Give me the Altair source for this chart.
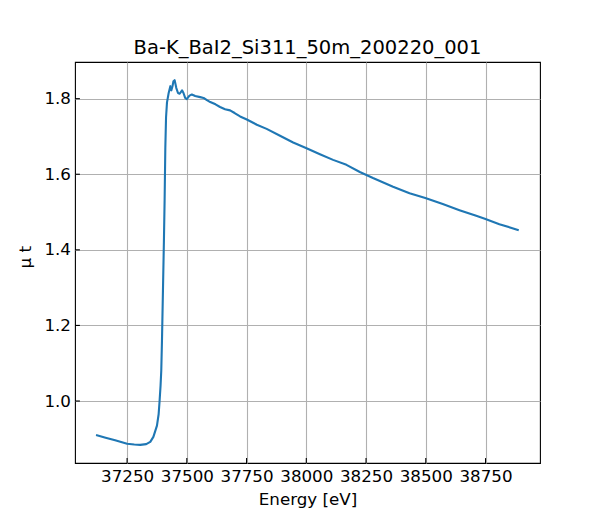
import altair as alt
import pandas as pd

# energy [eV] and mu*t
energy = [37120, 37160, 37200, 37250, 37280, 37305, 37330, 37347, 37360, 37368,
          37375, 37382, 37386, 37390, 37393, 37396, 37400, 37404, 37407, 37410,
          37413, 37417, 37424, 37431, 37435, 37440, 37444, 37449, 37456, 37463,
          37470, 37480, 37486, 37493, 37500, 37511, 37521, 37535, 37556, 37570,
          37584, 37598, 37620, 37639, 37660, 37681, 37700, 37723, 37751, 37793,
          37834, 37890, 37945, 38001, 38057, 38112, 38168, 38224, 38279, 38363,
          38432, 38498, 38571, 38641, 38711, 38747, 38808, 38889]
mu_t = [0.910, 0.903, 0.896, 0.887, 0.885, 0.884, 0.886, 0.892, 0.905, 0.921,
        0.935, 0.965, 1.000, 1.040, 1.080, 1.160, 1.290, 1.420, 1.530, 1.670,
        1.750, 1.790, 1.815, 1.833, 1.822, 1.833, 1.846, 1.849, 1.828, 1.815,
        1.813, 1.822, 1.815, 1.802, 1.799, 1.808, 1.811, 1.807, 1.804, 1.802,
        1.796, 1.791, 1.785, 1.778, 1.772, 1.769, 1.762, 1.753, 1.745, 1.731,
        1.720, 1.702, 1.684, 1.669, 1.653, 1.638, 1.625, 1.606, 1.590, 1.567,
        1.550, 1.537, 1.521, 1.505, 1.490, 1.482, 1.468, 1.452]

x_ticks = [37250, 37500, 37750, 38000, 38250, 38500, 38750]
y_ticks = [1.0, 1.2, 1.4, 1.6, 1.8]

FONT = "DejaVu Sans"
W, H = 465, 401

df = pd.DataFrame({"E": energy, "mu": mu_t})
xt = pd.DataFrame({"E": x_ticks})
yt = pd.DataFrame({"mu": y_ticks})

xscale = alt.Scale(domain=[37032, 38978], nice=False, zero=False)
yscale = alt.Scale(domain=[0.836, 1.897], nice=False, zero=False)

line = alt.Chart(df).mark_line(color="#1f77b4", strokeWidth=2.1, strokeJoin="round").encode(
    x=alt.X("E:Q", scale=xscale,
            axis=alt.Axis(values=x_ticks, format="d", title="Energy [eV]",
                          labelPadding=5, titleY=41.7, titleBaseline="alphabetic")),
    y=alt.Y("mu:Q", scale=yscale,
            axis=alt.Axis(values=y_ticks, format=".1f", title="μ t",
                          labelPadding=4.5, titleX=-49.4, titleY=194.7,
                          titleAngle=-90, titleAlign="center", titleBaseline="middle")),
)

# inward tick marks, like matplotlib direction="in"
xtick = alt.Chart(xt).mark_rule(color="black", strokeWidth=1.1).encode(
    x=alt.X("E:Q", scale=xscale), y=alt.value(H), y2=alt.value(H - 4.9))
ytick = alt.Chart(yt).mark_rule(color="black", strokeWidth=1.1).encode(
    y=alt.Y("mu:Q", scale=yscale), x=alt.value(0), x2=alt.value(4.9))

chart = alt.layer(line, xtick, ytick).properties(
    width=W, height=H,
    title=alt.TitleParams("Ba-K_BaI2_Si311_50m_200220_001", font=FONT, fontSize=19.5,
                          fontWeight="normal", color="black", offset=7.7,
                          baseline="alphabetic", anchor="middle", dy=19),
    autosize=alt.AutoSizeParams(type="none"),
    padding={"left": 67, "top": 54, "right": 52, "bottom": 49},
).configure_view(
    stroke="black", strokeWidth=1.1,
).configure_axis(
    domain=False, ticks=False, tickSize=0, grid=True, gridColor="#b0b0b0", gridWidth=1.1,
    labelFont=FONT, labelFontSize=16.7, labelColor="black",
    titleFont=FONT, titleFontSize=16.7, titleFontWeight="normal", titleColor="black",
)

chart.save("out.html", embed_options={"renderer": "svg", "actions": False})
